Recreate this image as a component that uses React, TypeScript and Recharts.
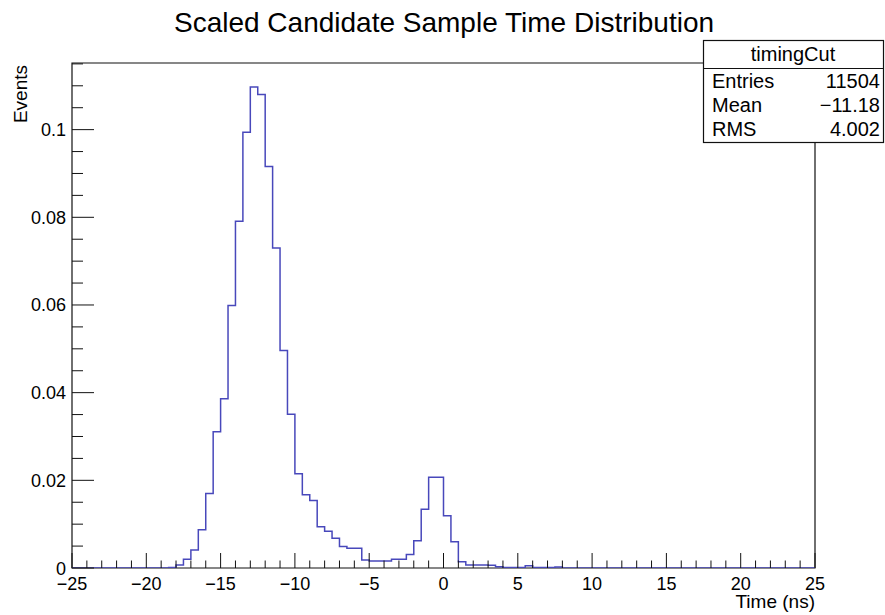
import React from 'react'
import {
  ComposedChart,
  Line,
  XAxis,
  YAxis,
  ReferenceArea,
} from 'recharts'

// histogram binning: 100 bins of 0.5 ns from -25 to 25
const X_MIN = -25
const X_MAX = 25
const BIN_WIDTH = 0.5
const Y_MAX = 0.1152

// scaled bin contents, bin i starts at -25 + 0.5 * i
const binValues = [
  0, 0, 0, 0, 0, 0, 0, 0, 0, 0, // -25 .. -20.5
  0, 0, 0, 0.0001, 0.0007, 0.002, 0.0041, 0.0087, 0.017, 0.0311, // -20 .. -15.5
  0.0386, 0.0599, 0.0791, 0.0994, 0.1097, 0.108, 0.0916, 0.073, 0.0496, 0.0351, // -15 .. -10.5
  0.0215, 0.0167, 0.0154, 0.0094, 0.0084, 0.0068, 0.0049, 0.0045, 0.0045, 0.0018, // -10 .. -5.5
  0.0016, 0.0016, 0.0016, 0.002, 0.002, 0.0031, 0.0062, 0.0134, 0.0207, 0.0207, // -5 .. -0.5
  0.0119, 0.006, 0.0014, 0.0007, 0.0007, 0.0007, 0.0006, 0.0003, 0.0001, 0.0001, // 0 .. 4.5
  0.0001, 0.0005, 0.0001, 0.0001, 0.0001, 0.0002, 0, 0, 0, 0, // 5 .. 9.5
  0, 0, 0, 0, 0, 0, 0, 0, 0, 0, // 10 .. 14.5
  0, 0, 0, 0, 0, 0, 0, 0, 0, 0, // 15 .. 19.5
  0, 0, 0, 0, 0, 0, 0, 0, 0, 0, // 20 .. 24.5
]

const xTicks = Array.from({ length: 51 }, (_, i) => X_MIN + i)
const yTicks = [
  0, 0.005, 0.01, 0.015, 0.02, 0.025, 0.03, 0.035, 0.04, 0.045, 0.05, 0.055,
  0.06, 0.065, 0.07, 0.075, 0.08, 0.085, 0.09, 0.095, 0.1, 0.105, 0.11, 0.115,
]

const statsRows = [
  { label: 'Entries', value: '11504' },
  { label: 'Mean', value: '\u221211.18' },
  { label: 'RMS', value: '4.002' },
]

// step line points: left edge of each bin, plus closing point at the upper edge
const histData = [
  ...binValues.map((v, i) => ({ t: X_MIN + BIN_WIDTH * i, y: v })),
  { t: X_MAX, y: binValues[binValues.length - 1] },
]

const FONT = '"Liberation Sans", Arial, Helvetica, sans-serif'
const LINE_COLOR = '#4848bb'

const fmtX = (v: number) => (v < 0 ? `\u2212${Math.abs(v)}` : `${v}`)

function renderXTick(props: any) {
  const { x, y, payload } = props
  const v = payload.value as number
  const major = v % 5 === 0
  return (
    <g key={`xt-${v}`}>
      <line x1={x} x2={x} y1={y} y2={y - (major ? 15 : 7.5)} stroke="#111" strokeWidth={1} />
      {major && (
        <text x={x} y={y + 22} textAnchor="middle" fontSize={18} fontFamily={FONT} fill="#000">
          {fmtX(v)}
        </text>
      )}
    </g>
  )
}

function renderYTick(props: any) {
  const { x, y, payload } = props
  const v = payload.value as number
  const major = Math.abs(v / 0.02 - Math.round(v / 0.02)) < 1e-6
  return (
    <g key={`yt-${v}`}>
      <line x1={x} x2={x + (major ? 22 : 11)} y1={y} y2={y} stroke="#111" strokeWidth={1} />
      {major && (
        <text x={x - 6} y={y + 6.5} textAnchor="end" fontSize={18} fontFamily={FONT} fill="#000">
          {String(Number(v.toFixed(3)))}
        </text>
      )}
    </g>
  )
}

export default function App() {
  return (
    <div style={{ position: 'absolute', left: 0, top: 0, width: 885, height: 615, background: '#fff' }}>
      <ComposedChart
        width={885}
        height={615}
        data={histData}
        margin={{ top: 63, right: 70, bottom: 7, left: 2 }}
      >
        <XAxis
          type="number"
          dataKey="t"
          domain={[X_MIN, X_MAX]}
          ticks={xTicks}
          interval={0}
          tickSize={0}
          tickMargin={0}
          height={40}
          axisLine={false}
          tickLine={false}
          tick={renderXTick}
          allowDataOverflow
        />
        <YAxis
          type="number"
          domain={[0, Y_MAX]}
          ticks={yTicks}
          interval={0}
          tickSize={0}
          tickMargin={0}
          width={70}
          axisLine={false}
          tickLine={false}
          tick={renderYTick}
          allowDataOverflow
        />
        <ReferenceArea
          x1={X_MIN}
          x2={X_MAX}
          y1={0}
          y2={Y_MAX}
          fill="none"
          fillOpacity={0}
          stroke="#111"
          strokeWidth={1.2}
        />
        <Line
          type="stepAfter"
          dataKey="y"
          stroke={LINE_COLOR}
          strokeWidth={1.5}
          dot={false}
          activeDot={false}
          isAnimationActive={false}
        />
      </ComposedChart>
      <svg
        width={885}
        height={615}
        style={{ position: 'absolute', left: 0, top: 0, pointerEvents: 'none' }}
        fontFamily={FONT}
      >
        <text x={444} y={32} textAnchor="middle" fontSize={28} fill="#000">
          Scaled Candidate Sample Time Distribution
        </text>
        <text
          x={27}
          y={65}
          transform="rotate(-90 27 65)"
          textAnchor="end"
          fontSize={19}
          fill="#000"
        >
          Events
        </text>
        <text x={815} y={608} textAnchor="end" fontSize={19} fill="#000">
          Time (ns)
        </text>
        <rect x={703.5} y={40.5} width={180} height={102} fill="#fff" stroke="#111" strokeWidth={1.2} />
        <line x1={703.5} x2={883.5} y1={68.5} y2={68.5} stroke="#111" strokeWidth={1.2} />
        <text x={793} y={61} textAnchor="middle" fontSize={20} fill="#000">
          timingCut
        </text>
        {statsRows.map((r, i) => (
          <g key={r.label}>
            <text x={712} y={88 + i * 24} fontSize={20} fill="#000">
              {r.label}
            </text>
            <text x={880} y={88 + i * 24} textAnchor="end" fontSize={20} fill="#000">
              {r.value}
            </text>
          </g>
        ))}
      </svg>
    </div>
  )
}
